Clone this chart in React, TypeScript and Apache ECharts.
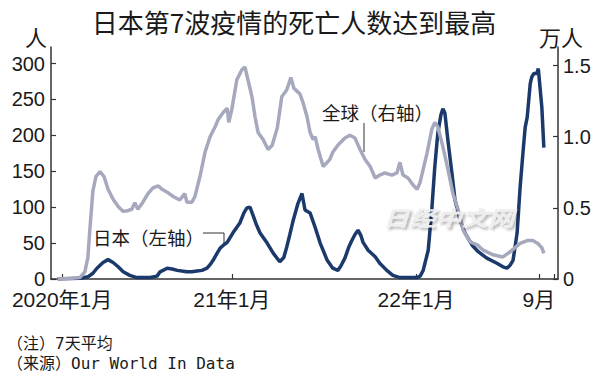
import React, { useEffect, useRef } from 'react';
import * as echarts from 'echarts';

// 日本（左轴）: 7-day average deaths, persons
const japanDates = [
  '2020-01-22','2020-03-06','2020-03-22','2020-04-01','2020-04-09','2020-04-21','2020-05-01','2020-05-11','2020-05-21','2020-05-31',
  '2020-06-13','2020-06-27','2020-07-23','2020-08-06','2020-08-12','2020-08-26','2020-09-05','2020-09-15','2020-09-24','2020-10-04',
  '2020-10-14','2020-10-24','2020-11-03','2020-11-13','2020-11-19','2020-11-25','2020-12-03','2020-12-09','2020-12-17','2020-12-23',
  '2020-12-28','2021-01-03','2021-01-11','2021-01-17','2021-01-25','2021-01-31','2021-02-06','2021-02-12','2021-02-18','2021-02-26',
  '2021-03-12','2021-03-24','2021-04-06','2021-04-14','2021-04-20','2021-04-26','2021-05-02','2021-05-08','2021-05-12','2021-05-20',
  '2021-05-26','2021-06-05','2021-06-15','2021-06-25','2021-07-09','2021-07-20','2021-07-30','2021-08-05','2021-08-13','2021-08-21',
  '2021-08-27','2021-09-02','2021-09-08','2021-09-14','2021-09-18','2021-09-28','2021-10-12','2021-10-21','2021-11-04','2021-11-16',
  '2021-11-30','2021-12-20','2022-01-03','2022-01-09','2022-01-15','2022-01-25','2022-02-01','2022-02-07','2022-02-13','2022-02-19',
  '2022-02-23','2022-02-27','2022-03-05','2022-03-13','2022-03-19','2022-03-29','2022-04-08','2022-04-22','2022-05-04','2022-05-21',
  '2022-06-10','2022-06-22','2022-06-30','2022-07-06','2022-07-12','2022-07-20','2022-07-26','2022-08-01','2022-08-05','2022-08-09',
  '2022-08-15','2022-08-18','2022-08-22','2022-08-28','2022-08-31','2022-09-03','2022-09-07','2022-09-11'
];
const japanValues = [
  0, 1, 3, 8, 15, 23, 27, 23, 17, 10,
  5, 2, 2, 4, 10, 15, 14, 12, 11, 10,
  10, 11, 12, 15, 20, 26, 36, 43, 48, 51,
  57, 64, 72, 78, 92, 99, 100, 89, 77, 64,
  50, 36, 24, 30, 45, 62, 80, 95, 105, 119,
  96, 92, 72, 50, 26, 15, 12, 18, 29, 45,
  54, 62, 68, 60, 51, 40, 31, 22, 12, 5,
  2, 2, 2, 4, 12, 40, 96, 156, 203, 228,
  237, 231, 193, 147, 110, 82, 64, 47, 38, 29,
  22, 17, 15, 19, 26, 64, 128, 179, 211, 225,
  272, 281, 286, 286, 293, 270, 239, 183
];

// 全球（右轴）: 7-day average deaths, 10k persons
const globalDates = [
  '2020-01-22','2020-02-20','2020-03-06','2020-03-16','2020-03-22','2020-03-26','2020-04-01','2020-04-07','2020-04-15','2020-04-23',
  '2020-05-01','2020-05-11','2020-05-21','2020-05-31','2020-06-09','2020-06-17','2020-06-23','2020-06-29','2020-07-09','2020-07-19',
  '2020-07-29','2020-08-08','2020-08-16','2020-08-26','2020-09-07','2020-09-20','2020-09-30','2020-10-04','2020-10-14','2020-10-20',
  '2020-10-30','2020-11-09','2020-11-19','2020-11-29','2020-12-05','2020-12-15','2020-12-23','2020-12-26','2021-01-01','2021-01-11',
  '2021-01-21','2021-01-27','2021-02-02','2021-02-10','2021-02-16','2021-02-22','2021-03-04','2021-03-14','2021-03-22','2021-04-01',
  '2021-04-10','2021-04-20','2021-04-28','2021-05-04','2021-05-10','2021-05-16','2021-05-22','2021-05-30','2021-06-05','2021-06-11',
  '2021-06-15','2021-06-21','2021-07-01','2021-07-09','2021-07-14','2021-07-20','2021-07-30','2021-08-13','2021-08-23','2021-09-02',
  '2021-09-12','2021-09-22','2021-10-02','2021-10-12','2021-10-21','2021-10-31','2021-11-14','2021-11-24','2021-11-30','2021-12-06',
  '2021-12-16','2021-12-26','2022-01-03','2022-01-09','2022-01-23','2022-02-01','2022-02-07','2022-02-13','2022-02-23','2022-03-05',
  '2022-03-15','2022-03-25','2022-04-04','2022-04-18','2022-05-02','2022-05-13','2022-06-02','2022-06-22','2022-07-06','2022-07-16',
  '2022-07-26','2022-08-09','2022-08-20','2022-08-30','2022-09-07','2022-09-11'
];
const globalValues = [
  0.0, 0.005, 0.01, 0.05, 0.15, 0.35, 0.62, 0.72, 0.755, 0.72,
  0.63, 0.56, 0.51, 0.475, 0.48, 0.49, 0.535, 0.49, 0.54, 0.6,
  0.64, 0.655, 0.63, 0.61, 0.58, 0.555, 0.6, 0.54, 0.54, 0.58,
  0.72, 0.89, 1.0, 1.07, 1.12, 1.17, 1.2, 1.1, 1.19, 1.4,
  1.47, 1.49, 1.4, 1.28, 1.14, 1.03, 0.98, 0.91, 0.94, 1.06,
  1.28, 1.33, 1.415, 1.34, 1.32, 1.3, 1.24, 1.14, 1.03, 0.98,
  1.0, 0.91, 0.79, 0.82, 0.84, 0.89, 0.94, 0.99, 1.01, 0.99,
  0.91, 0.84, 0.79, 0.71, 0.73, 0.745, 0.73, 0.745, 0.82, 0.73,
  0.71, 0.66, 0.63, 0.68, 0.89, 1.05, 1.1, 1.07, 0.93, 0.77,
  0.6, 0.49, 0.345, 0.26, 0.24, 0.205, 0.17, 0.155, 0.19, 0.22,
  0.25, 0.27, 0.27, 0.25, 0.22, 0.18
];

const xTickDates = ['2020-01-31', '2021-01-01', '2022-01-01', '2022-09-01', '2022-10-01'];
const xTickLabels = ['2020年1月', '21年1月', '22年1月', '9月', ''];
const leftTicks = [0, 50, 100, 150, 200, 250, 300];
const rightTicks = [0, 0.5, 1.0, 1.5];

const NAVY = '#1b3a6b';
const GRAY = '#a6a9be';
const AXIS = '#333333';
const TEXT = '#1a1a1a';
const NUM_FONT = "'Liberation Sans', 'Noto Sans CJK SC', sans-serif";
const CJK_FONT = "'Noto Sans CJK SC', sans-serif";
const MONO_FONT = "'DejaVu Sans Mono', 'Noto Sans CJK SC', monospace";

const ts = (s: string) => +new Date(s + 'T00:00:00');

export default function App() {
  const ref = useRef<HTMLDivElement>(null);

  useEffect(() => {
    if (!ref.current) return;
    const chart = echarts.init(ref.current, null, { renderer: 'svg' });
    const japanData = japanDates.map((d, i) => [ts(d), japanValues[i]]);
    const globalData = globalDates.map((d, i) => [ts(d), globalValues[i]]);
    const xTickTs = xTickDates.map(ts);
    const labelMap: Record<number, string> = {};
    xTickTs.forEach((t, i) => { labelMap[t] = xTickLabels[i]; });

    const option: any = {
      animation: false,
      backgroundColor: '#ffffff',
      grid: { left: 51, right: 42, top: 47, bottom: 104, containLabel: false },
      xAxis: {
        type: 'value',
        min: ts('2020-01-09'),
        max: ts('2022-10-09'),
        axisLine: { show: true, lineStyle: { color: AXIS, width: 1.5 } },
        axisTick: { show: true, inside: true, length: 5, customValues: xTickTs, lineStyle: { color: AXIS, width: 1.2 } },
        axisLabel: {
          show: true,
          customValues: xTickTs,
          formatter: (v: number) => labelMap[v] ?? '',
          fontFamily: NUM_FONT,
          fontSize: 21,
          color: TEXT,
          margin: 10,
        },
        splitLine: { show: false },
        minorTick: { show: false },
      },
      yAxis: [
        {
          type: 'value',
          min: 0,
          max: 323,
          interval: 50,
          position: 'left',
          axisLine: { show: true, lineStyle: { color: AXIS, width: 1.5 } },
          axisTick: { show: true, inside: true, length: 5, customValues: leftTicks, lineStyle: { color: AXIS, width: 1.2 } },
          axisLabel: {
            customValues: leftTicks,
            fontFamily: NUM_FONT,
            fontSize: 20,
            color: TEXT,
            margin: 6,
          },
          splitLine: { show: false },
        },
        {
          type: 'value',
          min: 0,
          max: 1.63,
          interval: 0.5,
          position: 'right',
          axisLine: { show: true, lineStyle: { color: AXIS, width: 1.5 } },
          axisTick: { show: true, inside: true, length: 5, customValues: rightTicks, lineStyle: { color: AXIS, width: 1.2 } },
          axisLabel: {
            customValues: rightTicks,
            formatter: (v: number) => (v === 0 ? '0' : v.toFixed(1)),
            fontFamily: NUM_FONT,
            fontSize: 20,
            color: TEXT,
            margin: 5,
          },
          splitLine: { show: false },
        },
      ],
      series: [
        {
          name: '日本',
          type: 'line',
          yAxisIndex: 0,
          data: japanData,
          showSymbol: false,
          symbol: 'none',
          lineStyle: { color: NAVY, width: 3.5 },
          z: 2,
        },
        {
          name: '全球',
          type: 'line',
          yAxisIndex: 1,
          data: globalData,
          showSymbol: false,
          symbol: 'none',
          lineStyle: { color: GRAY, width: 3.5 },
          z: 3,
        },
      ],
      graphic: [
        {
          type: 'text', x: 294, y: 21,
          style: { text: '日本第7波疫情的死亡人数达到最高', fontFamily: CJK_FONT, fontSize: 26, fill: TEXT, align: 'center', verticalAlign: 'middle' },
        },
        {
          type: 'text', x: 36, y: 36,
          style: { text: '人', fontFamily: CJK_FONT, fontSize: 22, fill: TEXT, align: 'center', verticalAlign: 'middle' },
        },
        {
          type: 'text', x: 561, y: 36,
          style: { text: '万人', fontFamily: CJK_FONT, fontSize: 22, fill: TEXT, align: 'center', verticalAlign: 'middle' },
        },
        {
          type: 'text', x: 322, y: 112,
          style: { text: '全球（右轴）', fontFamily: CJK_FONT, fontSize: 18.5, fill: TEXT, align: 'left', verticalAlign: 'middle' },
        },
        {
          type: 'line', shape: { x1: 364, y1: 123, x2: 364, y2: 152 },
          style: { stroke: AXIS, lineWidth: 1 },
        },
        {
          type: 'text', x: 93, y: 237,
          style: { text: '日本（左轴）', fontFamily: CJK_FONT, fontSize: 18.5, fill: TEXT, align: 'left', verticalAlign: 'middle' },
        },
        {
          type: 'polyline', shape: { points: [[203, 233], [224, 233], [224, 243]] },
          style: { stroke: AXIS, lineWidth: 1, fill: 'none' },
        },
        {
          type: 'text', x: 383, y: 217, scaleX: 1.25, z: 10,
          style: {
            text: '日经中文网', fontFamily: CJK_FONT, fontSize: 21, fontWeight: 'bold', fontStyle: 'italic',
            fill: '#eeeeee', align: 'left', verticalAlign: 'middle', opacity: 0.95,
            textShadowColor: 'rgba(0,0,0,0.35)', textShadowBlur: 3, textShadowOffsetX: 2, textShadowOffsetY: 2,
          },
        },
        {
          type: 'text', x: 7, y: 343,
          style: { text: '（注）7天平均', fontFamily: MONO_FONT, fontSize: 16, fill: TEXT, align: 'left', verticalAlign: 'middle' },
        },
        {
          type: 'text', x: 7, y: 363,
          style: { text: '（来源）Our World In Data', fontFamily: MONO_FONT, fontSize: 16, fill: TEXT, align: 'left', verticalAlign: 'middle' },
        },
      ],
    };
    chart.setOption(option);
    return () => chart.dispose();
  }, []);

  return (
    <div
      ref={ref}
      style={{ position: 'absolute', left: 0, top: 0, width: 600, height: 383, background: '#ffffff' }}
    />
  );
}
